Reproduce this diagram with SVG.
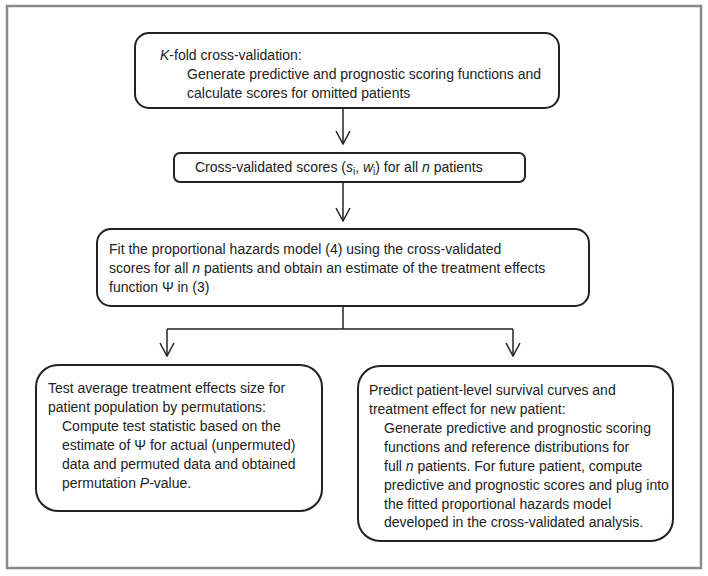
<svg xmlns="http://www.w3.org/2000/svg" width="708" height="576" viewBox="0 0 708 576">
<defs>
<style>
.box{fill:#fff;stroke:#222;stroke-width:2}
.t{font-family:"Liberation Sans",Arial,sans-serif;font-size:14px;fill:#222}
.i{font-style:italic}
.sub{font-size:10px}
.c{fill:none;stroke:#222;stroke-width:1.5}
</style>
<marker id="arr" viewBox="0 0 16 16" refX="15" refY="8" markerWidth="16" markerHeight="16" markerUnits="userSpaceOnUse" orient="auto">
<path d="M2,1 L15,8 L2,15" fill="none" stroke="#222" stroke-width="1.5"/>
</marker>
</defs>
<rect x="0" y="0" width="708" height="576" fill="#fff"/>
<rect x="7" y="6" width="694" height="562" fill="none" stroke="#8a8a8a" stroke-width="2.5"/>
<g id="connectors">
<line class="c" x1="343" y1="109" x2="343" y2="144" marker-end="url(#arr)"/>
<line class="c" x1="343" y1="182" x2="343" y2="221" marker-end="url(#arr)"/>
<polyline class="c" points="343,306 343,329"/>
<polyline class="c" points="167,329 513,329"/>
<line class="c" x1="167" y1="329" x2="167" y2="356" marker-end="url(#arr)"/>
<line class="c" x1="513" y1="329" x2="513" y2="356" marker-end="url(#arr)"/>
</g>
<g id="kfold">
<rect class="box" x="135" y="33" width="424" height="75" rx="14"/>
<text class="t" x="160" y="60"><tspan class="i">K</tspan>-fold cross-validation:</text>
<text class="t" x="187" y="79">Generate predictive and prognostic scoring functions and</text>
<text class="t" x="187" y="98">calculate scores for omitted patients</text>
</g>
<g id="cvscores">
<rect class="box" x="174" y="153" width="351" height="29" rx="6"/>
<text class="t" x="195" y="172">Cross-validated scores (<tspan class="i">s</tspan><tspan class="sub" dy="3">i</tspan><tspan dy="-3">, </tspan><tspan class="i">w</tspan><tspan class="sub" dy="3">i</tspan><tspan dy="-3">) for all </tspan><tspan class="i">n</tspan> patients</text>
</g>
<g id="fitmodel">
<rect class="box" x="97" y="229" width="492" height="77" rx="14"/>
<text class="t" x="109" y="254">Fit the proportional hazards model (4) using the cross-validated</text>
<text class="t" x="109" y="273">scores for all <tspan class="i">n</tspan> patients and obtain an estimate of the treatment effects</text>
<text class="t" x="109" y="292">function Ψ in (3)</text>
</g>
<g id="testbox">
<rect class="box" x="36" y="365" width="286" height="146" rx="22"/>
<text class="t" x="48" y="393">Test average treatment effects size for</text>
<text class="t" x="48" y="412">patient population by permutations:</text>
<text class="t" x="62" y="431">Compute test statistic based on the</text>
<text class="t" x="62" y="450">estimate of Ψ for actual (unpermuted)</text>
<text class="t" x="62" y="469">data and permuted data and obtained</text>
<text class="t" x="62" y="488">permutation <tspan class="i">P</tspan>-value.</text>
</g>
<g id="predictbox">
<rect class="box" x="358" y="366" width="315" height="175" rx="22"/>
<text class="t" x="369" y="395">Predict patient-level survival curves and</text>
<text class="t" x="369" y="414">treatment effect for new patient:</text>
<text class="t" x="384" y="433">Generate predictive and prognostic scoring</text>
<text class="t" x="384" y="452">functions and reference distributions for</text>
<text class="t" x="384" y="471">full <tspan class="i">n</tspan> patients. For future patient, compute</text>
<text class="t" x="384" y="490">predictive and prognostic scores and plug into</text>
<text class="t" x="384" y="509">the fitted proportional hazards model</text>
<text class="t" x="384" y="527">developed in the cross-validated analysis.</text>
</g>
</svg>
